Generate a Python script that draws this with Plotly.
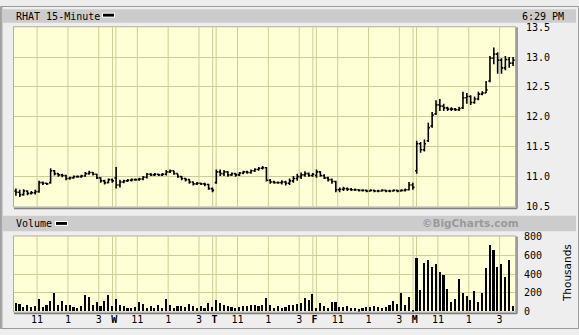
import plotly.graph_objects as go

W, H = 579, 335

# ---------------- data ----------------
day_labels = ["W", "T", "F", "M"]
hour_labels = ["11", "1", "3"]
bars_per_day = 26

open_tue = [10.76,10.74,10.70,10.76,10.72,10.73,10.75,10.90,10.89,10.90,11.10,11.05,11.03,11.02,10.97,10.98,11.00,11.00,11.01,11.05,11.07,11.04,10.98,10.93,10.90,10.95]
high_tue = [10.80,10.78,10.79,10.77,10.76,10.78,10.93,10.92,10.90,11.14,11.11,11.06,11.05,11.03,11.00,11.02,11.02,11.03,11.08,11.10,11.08,11.05,10.99,10.95,10.97,10.97]
low_tue = [10.68,10.66,10.68,10.69,10.70,10.70,10.73,10.86,10.86,10.88,11.02,11.00,10.99,10.94,10.95,10.97,10.98,10.98,11.00,11.03,11.02,10.96,10.90,10.87,10.89,10.90]
close_tue = [10.74,10.70,10.76,10.72,10.73,10.75,10.90,10.89,10.88,11.10,11.05,11.03,11.02,10.97,10.98,11.00,11.00,11.01,11.05,11.07,11.04,10.98,10.93,10.90,10.95,10.93]

open_wed = [10.98,10.86,10.91,10.93,10.94,10.95,10.95,10.96,10.99,11.04,11.03,11.04,11.03,11.04,11.08,11.10,11.05,11.00,10.97,10.95,10.91,10.88,10.89,10.88,10.87,10.80]
high_wed = [11.16,10.95,10.95,10.96,10.97,10.97,10.98,11.01,11.06,11.06,11.06,11.05,11.06,11.11,11.12,11.10,11.05,11.01,10.98,10.96,10.92,10.91,10.90,10.90,10.88,10.82]
low_wed = [10.80,10.82,10.89,10.91,10.92,10.93,10.93,10.94,10.97,11.01,11.01,11.01,11.01,11.02,11.06,11.03,10.98,10.94,10.92,10.88,10.85,10.86,10.86,10.84,10.78,10.74]
close_wed = [10.86,10.91,10.93,10.94,10.95,10.95,10.96,10.99,11.04,11.03,11.04,11.03,11.04,11.08,11.10,11.05,11.00,10.97,10.95,10.91,10.88,10.89,10.88,10.87,10.80,10.77]

open_thu = [10.90,11.08,11.05,11.08,11.03,11.05,11.03,11.06,11.08,11.07,11.10,11.12,11.14,11.15,10.94,10.91,10.90,10.90,10.91,10.89,10.93,10.97,11.00,11.03,11.05,11.02]
high_thu = [11.12,11.12,11.11,11.09,11.07,11.06,11.08,11.10,11.10,11.12,11.14,11.16,11.18,11.16,10.96,10.93,10.92,10.94,10.93,10.97,11.01,11.05,11.07,11.09,11.07,11.06]
low_thu = [10.88,11.01,11.01,11.00,11.01,11.00,11.01,11.04,11.05,11.05,11.08,11.10,11.12,10.92,10.88,10.88,10.88,10.87,10.85,10.86,10.90,10.93,10.96,11.00,11.00,11.00]
close_thu = [11.08,11.05,11.08,11.03,11.05,11.03,11.06,11.08,11.07,11.10,11.12,11.14,11.15,10.94,10.91,10.90,10.90,10.91,10.89,10.93,10.97,11.00,11.03,11.05,11.02,11.04]

open_fri = [11.02,11.08,11.02,10.98,10.95,10.92,10.78,10.79,10.80,10.79,10.78,10.78,10.77,10.77,10.76,10.77,10.76,10.76,10.77,10.76,10.76,10.77,10.76,10.77,10.78,10.86]
high_fri = [11.12,11.09,11.04,11.00,10.97,10.93,10.82,10.83,10.82,10.81,10.80,10.79,10.79,10.78,10.79,10.78,10.78,10.79,10.78,10.78,10.79,10.78,10.79,10.80,10.91,10.90]
low_fri = [10.98,11.00,10.96,10.92,10.88,10.74,10.74,10.76,10.76,10.76,10.76,10.75,10.75,10.74,10.75,10.74,10.74,10.75,10.74,10.74,10.75,10.74,10.75,10.75,10.77,10.78]
close_fri = [11.08,11.02,10.98,10.95,10.92,10.78,10.79,10.80,10.79,10.78,10.78,10.77,10.77,10.76,10.77,10.76,10.76,10.77,10.76,10.76,10.77,10.76,10.77,10.78,10.86,10.82]

open_mon = [11.10,11.55,11.45,11.60,11.85,12.05,12.20,12.18,12.15,12.13,12.13,12.12,12.15,12.32,12.34,12.24,12.30,12.38,12.40,12.60,12.98,13.05,12.95,12.82,12.96,12.90]
high_mon = [11.60,11.58,11.62,11.90,12.08,12.28,12.30,12.22,12.17,12.16,12.15,12.17,12.42,12.40,12.36,12.34,12.42,12.43,12.60,13.02,13.16,13.08,12.98,13.02,13.00,13.00]
low_mon = [11.05,11.40,11.42,11.58,11.82,12.03,12.10,12.10,12.10,12.10,12.10,12.10,12.13,12.22,12.20,12.22,12.28,12.36,12.40,12.58,12.88,12.72,12.72,12.78,12.82,12.85]
close_mon = [11.55,11.45,11.55,11.82,12.03,12.20,12.18,12.15,12.13,12.13,12.12,12.14,12.32,12.34,12.24,12.30,12.38,12.40,12.45,12.98,13.05,12.95,12.82,12.96,12.90,12.95]

vol_tue = [88,78,47,61,41,54,132,47,64,112,193,71,112,71,64,41,37,51,173,146,71,98,58,112,173,51]
vol_wed = [132,64,54,37,37,47,98,78,37,51,37,64,37,132,71,30,54,54,44,78,58,30,51,37,88,44]
vol_thu = [122,85,64,54,47,37,44,51,54,64,64,51,64,139,64,37,58,37,44,64,71,79,86,143,118,182]
vol_fri = [39,86,57,36,93,93,50,46,57,29,36,21,36,43,50,57,50,36,43,62,110,76,197,69,152,17]
vol_mon = [569,224,517,545,466,500,414,390,231,103,131,338,197,166,121,214,103,197,455,700,648,466,503,362,545,52]

price_ticks = [10.5, 11.0, 11.5, 12.0, 12.5, 13.0, 13.5]
vol_ticks = [0, 200, 400, 600, 800]

opens = open_tue + open_wed + open_thu + open_fri + open_mon
highs = high_tue + high_wed + high_thu + high_fri + high_mon
lows = low_tue + low_wed + low_thu + low_fri + low_mon
closes = close_tue + close_wed + close_thu + close_fri + close_mon
vols = vol_tue + vol_wed + vol_thu + vol_fri + vol_mon
n = len(closes)
xs = [i + 0.5 for i in range(n)]
ndays = n // bars_per_day

# ---------------- geometry helpers ----------------
def px(x):
    return x / W

def py(y):
    return 1 - y / H

P_L, P_R = 14, 515
P1_T, P1_B = 22, 208
P2_T, P2_B = 239, 317

GRID = "#cdcd96"
BG = "#ffffd6"
FONT_MONO = "DejaVu Sans Mono"

fig = go.Figure()
fig.add_trace(go.Ohlc(
    x=xs, open=opens, high=highs, low=lows, close=closes,
    increasing=dict(line=dict(color="black", width=1.6)),
    decreasing=dict(line=dict(color="black", width=1.6)),
    tickwidth=0.42, xaxis="x", yaxis="y", showlegend=False, hoverinfo="skip"))
fig.add_trace(go.Bar(
    x=xs, y=vols, width=0.42, marker=dict(color="black", line=dict(width=0)),
    xaxis="x2", yaxis="y2", showlegend=False, hoverinfo="skip"))

# x ticks
tickvals, ticktext = [], []
for d in range(ndays):
    if d > 0:
        tickvals.append(d * bars_per_day)
        ticktext.append("<b>" + day_labels[d - 1] + "</b>")
    for off, lab in zip([6, 14, 22], hour_labels):
        tickvals.append(d * bars_per_day + off)
        ticktext.append(lab)

shapes = []
# header bars
for (y0, y1) in [(3.5, 17.5), (217.5, 233.5)]:
    shapes.append(dict(type="rect", xref="paper", yref="paper", x0=px(3), x1=px(576),
                       y0=py(y1), y1=py(y0), fillcolor="#cccccc", line=dict(width=0), layer="below"))
# page frame
shapes.append(dict(type="rect", xref="paper", yref="paper", x0=px(0.5), x1=px(578.5),
                   y0=py(334.5), y1=py(0.5), line=dict(color="#9a9a9a", width=1)))
shapes.append(dict(type="line", xref="paper", yref="paper", x0=px(1.5), x1=px(1.5),
                   y0=py(334), y1=py(1), line=dict(color="#a8a8a8", width=2)))
# legend swatches
for (x0, y0) in [(102, 7), (55, 223)]:
    shapes.append(dict(type="rect", xref="paper", yref="paper", x0=px(x0), x1=px(x0 + 13),
                       y0=py(y0 + 5), y1=py(y0), fillcolor="white", line=dict(width=0)))
    shapes.append(dict(type="rect", xref="paper", yref="paper", x0=px(x0 + 1), x1=px(x0 + 12),
                       y0=py(y0 + 4), y1=py(y0 + 1), fillcolor="black", line=dict(width=0)))

# vertical grid lines
for yr in ["y domain", "y2 domain"]:
    xr = "x" if yr == "y domain" else "x2"
    for d in range(ndays):
        for off in [6, 14, 22]:
            xv = d * bars_per_day + off
            shapes.append(dict(type="line", xref=xr, yref=yr, x0=xv, x1=xv, y0=0, y1=1,
                               line=dict(color=GRID, width=1), layer="below"))
        if d > 0:
            for dv in (-0.45, 0.45):
                xv = d * bars_per_day + dv
                shapes.append(dict(type="line", xref=xr, yref=yr, x0=xv, x1=xv, y0=0, y1=1,
                                   line=dict(color=GRID, width=1), layer="below"))

# plot frames with shadow
for (t, b) in [(P1_T, P1_B), (P2_T, P2_B)]:
    shapes.append(dict(type="rect", xref="paper", yref="paper", x0=px(P_L - 0.5), x1=px(P_R + 0.5),
                       y0=py(b + 0.5), y1=py(t - 0.5), line=dict(color="#b0b0a0", width=1)))
    shapes.append(dict(type="line", xref="paper", yref="paper", x0=px(P_L), x1=px(P_R + 2),
                       y0=py(b + 2), y1=py(b + 2), line=dict(color="#808080", width=1.5)))
    shapes.append(dict(type="line", xref="paper", yref="paper", x0=px(P_R + 2), x1=px(P_R + 2),
                       y0=py(b + 2), y1=py(t), line=dict(color="#808080", width=1.5)))

annotations = [
    dict(text="RHAT 15-Minute", x=px(14), y=py(10.5), xref="paper", yref="paper",
         xanchor="left", yanchor="middle", showarrow=False,
         font=dict(family=FONT_MONO, size=10, color="black")),
    dict(text="6:29 PM", x=px(566), y=py(10.5), xref="paper", yref="paper",
         xanchor="right", yanchor="middle", showarrow=False,
         font=dict(family=FONT_MONO, size=10, color="black")),
    dict(text="Volume", x=px(14), y=py(225.5), xref="paper", yref="paper",
         xanchor="left", yanchor="middle", showarrow=False,
         font=dict(family=FONT_MONO, size=10, color="black")),
    dict(text="<b>©BigCharts.com</b>", x=px(470), y=py(225.5), xref="paper", yref="paper",
         xanchor="center", yanchor="middle", showarrow=False,
         font=dict(family="DejaVu Sans", size=10.5, color="#9a9a9a")),
    dict(text="Thousands", x=px(567), y=py(277), xref="paper", yref="paper",
         xanchor="center", yanchor="middle", showarrow=False, textangle=-90,
         font=dict(family="DejaVu Sans", size=10.5, color="black")),
]

fig.update_layout(
    width=W, height=H, margin=dict(l=0, r=0, t=0, b=0),
    paper_bgcolor="#eeeeee", plot_bgcolor=BG,
    shapes=shapes, annotations=annotations, showlegend=False, bargap=0,
    xaxis=dict(domain=[px(P_L), px(P_R)], range=[0, n], showgrid=False, zeroline=False,
               showticklabels=False, ticks="", rangeslider=dict(visible=False), anchor="y"),
    yaxis=dict(domain=[py(P1_B), py(P1_T)], range=[10.5, 13.5], side="right",
               tickvals=price_ticks, ticktext=[f"{v:.1f}" for v in price_ticks],
               showgrid=True, gridcolor=GRID, gridwidth=1, zeroline=False, ticks="",
               ticklabelstandoff=10, anchor="x",
               tickfont=dict(family=FONT_MONO, size=10, color="black")),
    xaxis2=dict(domain=[px(P_L), px(P_R)], range=[0, n], showgrid=False, zeroline=False,
                tickvals=tickvals, ticktext=ticktext, ticks="", anchor="y2",
                tickfont=dict(family=FONT_MONO, size=10, color="black"), tickangle=0),
    yaxis2=dict(domain=[py(P2_B), py(P2_T)], range=[0, 800], side="right",
                tickvals=vol_ticks, showgrid=True, gridcolor=GRID, gridwidth=1,
                zeroline=False, ticks="", ticklabelstandoff=8, anchor="x2",
                tickfont=dict(family=FONT_MONO, size=10, color="black")),
)

fig.write_html("out.html")
